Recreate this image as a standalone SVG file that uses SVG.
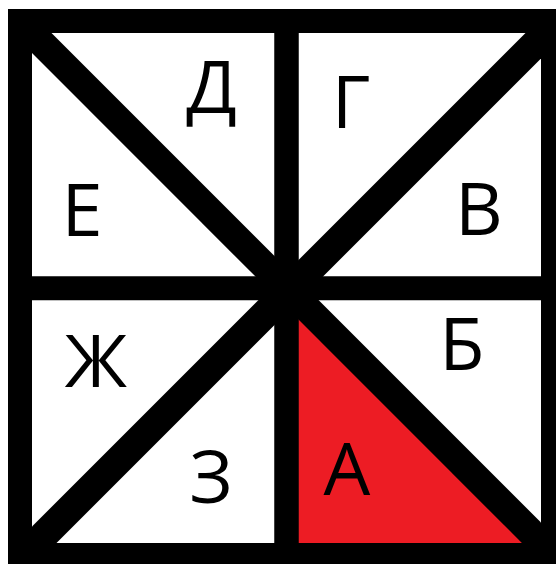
<svg xmlns="http://www.w3.org/2000/svg" width="556" height="564" viewBox="0 0 556 564">
<style>
.ln{stroke:#000;fill:none}
.lbl{font-family:"Open Sans","Noto Sans","Liberation Sans",sans-serif;font-size:74px;fill:#000;text-anchor:middle}
</style>
<defs>
<clipPath id="inner"><rect x="32" y="33" width="509" height="510"/></clipPath>
</defs>
<rect width="556" height="564" fill="#fff"/>
<g id="sector-A"><polygon points="286,288 286,556 554,556" fill="#ED1C24" clip-path="url(#inner)"/></g>
<g id="connectors">
<g clip-path="url(#inner)">
<line class="ln" x1="0" y1="1.3" x2="600" y2="601.3" stroke-width="28"/>
<line class="ln" x1="0" y1="579" x2="600" y2="-21" stroke-width="29"/>
</g>
<line class="ln" x1="286.5" y1="21" x2="286.5" y2="555" stroke-width="24.5"/>
<line class="ln" x1="20" y1="288.3" x2="553" y2="288.3" stroke-width="24"/>
<rect class="ln" x="20" y="21" width="533" height="534" stroke-width="24"/>
</g>
<g id="label-D"><text class="lbl" x="211.5" y="113">Д</text></g>
<g id="label-G"><text class="lbl" x="351" y="128">Г</text></g>
<g id="label-E"><text class="lbl" x="82" y="236">Е</text></g>
<g id="label-V"><text class="lbl" x="479" y="235">В</text></g>
<g id="label-Zh"><text class="lbl" x="96" y="387">Ж</text></g>
<g id="label-B"><text class="lbl" x="462" y="370">Б</text></g>
<g id="label-Z"><text class="lbl" x="211" y="503">З</text></g>
<g id="label-A"><text class="lbl" x="347" y="495">А</text></g>
</svg>
